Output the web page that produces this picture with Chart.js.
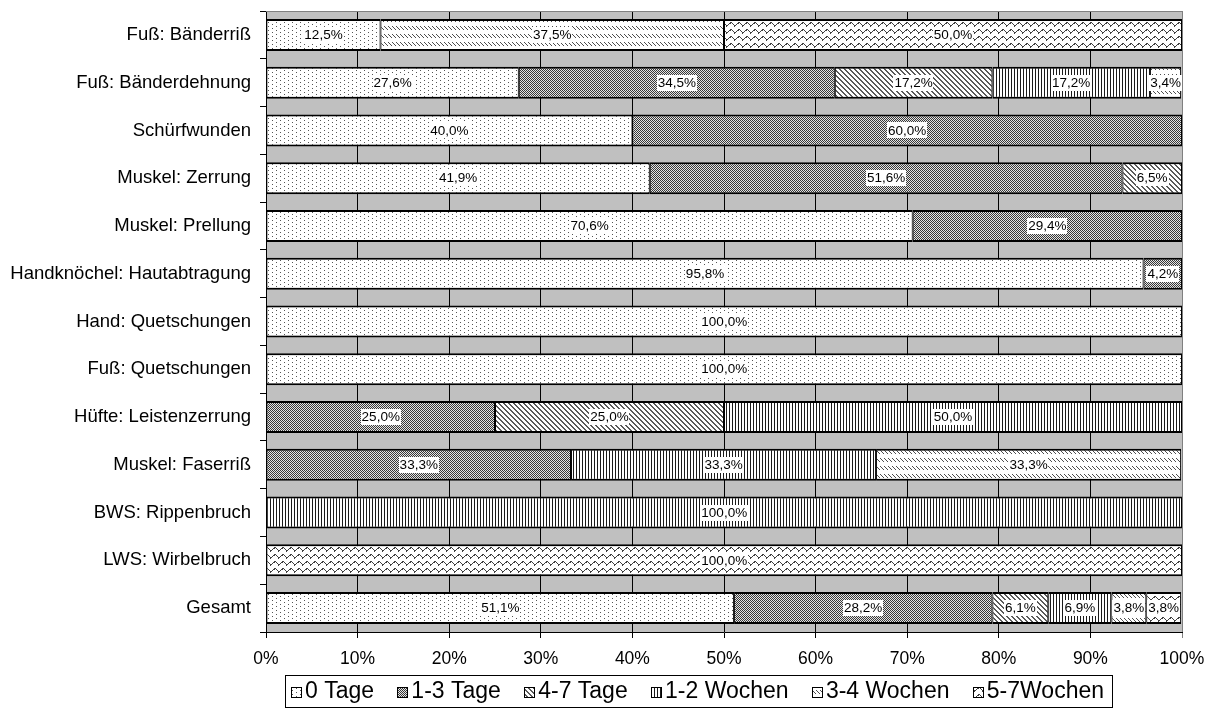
<!DOCTYPE html>
<html>
<head>
<meta charset="utf-8">
<script src="https://cdn.jsdelivr.net/npm/chart.js@4.4.1/dist/chart.umd.min.js"></script>
<style>
  html, body { margin: 0; padding: 0; background: #fff; }
  canvas { display: block; }
</style>
</head>
<body>
<canvas id="chart" width="1215" height="709"></canvas>
<script>
// Kategorien von oben nach unten
const categories = [
  "Fuß: Bänderriß",
  "Fuß: Bänderdehnung",
  "Schürfwunden",
  "Muskel: Zerrung",
  "Muskel: Prellung",
  "Handknöchel: Hautabtragung",
  "Hand: Quetschungen",
  "Fuß: Quetschungen",
  "Hüfte: Leistenzerrung",
  "Muskel: Faserriß",
  "BWS: Rippenbruch",
  "LWS: Wirbelbruch",
  "Gesamt"
];

const seriesNames = ["0 Tage", "1-3 Tage", "4-7 Tage", "1-2 Wochen", "3-4 Wochen", "5-7Wochen"];

// Anteile in Prozent
const tage0     = [12.5, 27.6, 40.0, 41.9, 70.6, 95.8, 100.0, 100.0, 0, 0, 0, 0, 51.1];
const tage1bis3 = [0, 34.5, 60.0, 51.6, 29.4, 4.2, 0, 0, 25.0, 33.3, 0, 0, 28.2];
const tage4bis7 = [0, 17.2, 0, 6.5, 0, 0, 0, 0, 25.0, 0, 0, 0, 6.1];
const wochen1bis2 = [0, 17.2, 0, 0, 0, 0, 0, 0, 50.0, 33.3, 100.0, 0, 6.9];
const wochen3bis4 = [37.5, 3.4, 0, 0, 0, 0, 0, 0, 0, 33.3, 0, 0, 3.8];
const wochen5bis7 = [50.0, 0, 0, 0, 0, 0, 0, 0, 0, 0, 0, 100.0, 3.8];

const xTicks = [0, 10, 20, 30, 40, 50, 60, 70, 80, 90, 100];

const FONT = "'Liberation Sans', Arial, sans-serif";

const canvas = document.getElementById("chart");
const ctx = canvas.getContext("2d");

// Schraffuren wie im Original (Excel-Muster)
function makePattern(w, h, bg, fg, test) {
  const c = document.createElement("canvas");
  c.width = w;
  c.height = h;
  const g = c.getContext("2d");
  g.fillStyle = bg;
  g.fillRect(0, 0, w, h);
  g.fillStyle = fg;
  for (let y = 0; y < h; y++) {
    for (let x = 0; x < w; x++) {
      if (test(x, y)) g.fillRect(x, y, 1, 1);
    }
  }
  return ctx.createPattern(c, "repeat");
}

const waveY = [3, 2, 1, 1, 2, 3, 4, 4];

const patterns = [
  makePattern(8, 4, "#ffffff", "#555555", (x, y) => (x === 0 && y === 0) || (x === 4 && y === 2)),
  makePattern(2, 2, "#e4e4e4", "#383838", (x, y) => x === y),
  makePattern(5, 5, "#ffffff", "#5a5a5a", (x, y) => ((x - y + 5) % 5) < 2),
  makePattern(3, 1, "#ffffff", "#1a1a1a", (x) => x === 0),
  makePattern(4, 8, "#ffffff", "#4e4e4e", (x, y) => y >= 2 && y <= 5 && x === y - 2),
  makePattern(8, 7, "#ffffff", "#404040", (x, y) => y === waveY[x] || (y === waveY[x] + 1 && (x === 2 || x === 6)))
];

const seriesValues = [tage0, tage1bis3, tage4bis7, wochen1bis2, wochen3bis4, wochen5bis7];

const datasets = seriesValues.map((vals, i) => ({
  label: seriesNames[i],
  data: vals.map(v => (v > 0 ? v : null)),
  backgroundColor: patterns[i],
  borderColor: "#000000",
  borderWidth: { top: 2, bottom: 2, left: 1, right: 1 },
  borderSkipped: false,
  barPercentage: 0.67,
  categoryPercentage: 1.0
}));

function fmt(v) {
  return v.toFixed(1).replace(".", ",") + "%";
}

const backgroundPlugin = {
  id: "plotBackground",
  beforeDraw(chart) {
    const { ctx, chartArea: a } = chart;
    ctx.save();
    ctx.fillStyle = "#ffffff";
    ctx.fillRect(0, 0, chart.width, chart.height);
    ctx.fillStyle = "#c0c0c0";
    ctx.fillRect(a.left, a.top, a.right - a.left, a.bottom - a.top);
    ctx.restore();
  },
  beforeDatasetsDraw(chart) {
    const { ctx, chartArea: a } = chart;
    ctx.save();
    ctx.strokeStyle = "#808080";
    ctx.lineWidth = 1;
    ctx.beginPath();
    ctx.moveTo(a.left, a.top + 0.5);
    ctx.lineTo(a.right, a.top + 0.5);
    ctx.stroke();
    ctx.restore();
  }
};

const labelPlugin = {
  id: "segmentLabels",
  afterDatasetsDraw(chart) {
    const c = chart.ctx;
    c.save();
    c.font = "13.5px " + FONT;
    c.textAlign = "center";
    c.textBaseline = "middle";
    chart.data.datasets.forEach((ds, di) => {
      const meta = chart.getDatasetMeta(di);
      meta.data.forEach((el, i) => {
        const v = ds.data[i];
        if (!v) return;
        const cx = (el.x + el.base) / 2;
        const cy = el.y;
        const txt = fmt(v);
        const w = c.measureText(txt).width;
        c.fillStyle = "#ffffff";
        c.fillRect(Math.round(cx - w / 2 - 1), Math.round(cy - 8), Math.round(w + 2), 16);
        c.fillStyle = "#000000";
        c.fillText(txt, cx, cy + 0.5);
      });
    });
    c.restore();
  }
};

const legendPlugin = {
  id: "boxLegend",
  afterDraw(chart) {
    const c = chart.ctx;
    const boxLeft = 285, boxRight = 1112, boxTop = 675, boxBottom = 707;
    const iconSize = 11, iconGap = 3, padL = 6, padR = 8;
    c.save();
    c.font = "23px " + FONT;
    c.textBaseline = "middle";
    c.textAlign = "left";
    const widths = seriesNames.map(n => c.measureText(n).width);
    const used = widths.reduce((s, w) => s + w + iconSize + iconGap, 0);
    const gap = (boxRight - boxLeft - padL - padR - used) / (seriesNames.length - 1);
    c.fillStyle = "#ffffff";
    c.fillRect(boxLeft, boxTop, boxRight - boxLeft, boxBottom - boxTop);
    c.strokeStyle = "#000000";
    c.lineWidth = 1;
    c.strokeRect(boxLeft + 0.5, boxTop + 0.5, boxRight - boxLeft, boxBottom - boxTop);
    let x = boxLeft + padL;
    const cy = (boxTop + boxBottom) / 2 + 1;
    seriesNames.forEach((name, i) => {
      const iy = Math.round(cy - iconSize / 2);
      c.fillStyle = patterns[i];
      c.fillRect(Math.round(x), iy, iconSize, iconSize);
      c.strokeStyle = "#000000";
      c.strokeRect(Math.round(x) + 0.5, iy + 0.5, iconSize - 1, iconSize - 1);
      c.fillStyle = "#000000";
      c.fillText(name, x + iconSize + iconGap, cy);
      x += iconSize + iconGap + widths[i] + gap;
    });
    c.restore();
  }
};

new Chart(canvas, {
  type: "bar",
  data: { labels: categories, datasets: datasets },
  plugins: [backgroundPlugin, labelPlugin, legendPlugin],
  options: {
    indexAxis: "y",
    responsive: false,
    animation: false,
    layout: { padding: { top: 11, right: 33, left: 0, bottom: 0 } },
    plugins: {
      legend: { display: false },
      tooltip: { enabled: false },
      title: { display: false }
    },
    scales: {
      x: {
        stacked: true,
        min: 0,
        max: 100,
        afterBuildTicks(scale) {
          scale.ticks = xTicks.map(v => ({ value: v }));
        },
        afterFit(scale) {
          scale.height = 77;
          scale.paddingLeft = 0;
          scale.paddingRight = 0;
        },
        ticks: {
          callback: v => v + "%",
          font: { family: FONT, size: 17.5 },
          color: "#000000",
          padding: 11,
          maxRotation: 0
        },
        grid: {
          color: c => (c.tick && c.tick.value === 100 ? "#808080" : "#000000"),
          lineWidth: 1,
          tickLength: 6,
          drawTicks: true
        },
        border: { display: true, color: "#000000", width: 1 }
      },
      y: {
        stacked: true,
        afterFit(scale) {
          scale.width = 266;
          scale.paddingTop = 0;
          scale.paddingBottom = 0;
        },
        ticks: {
          font: { family: FONT, size: 18.5 },
          color: "#000000",
          padding: 9
        },
        grid: {
          offset: true,
          drawOnChartArea: false,
          drawTicks: true,
          tickLength: 6,
          color: "#000000"
        },
        border: { display: true, color: "#000000", width: 1 }
      }
    }
  }
});
</script>
</body>
</html>
